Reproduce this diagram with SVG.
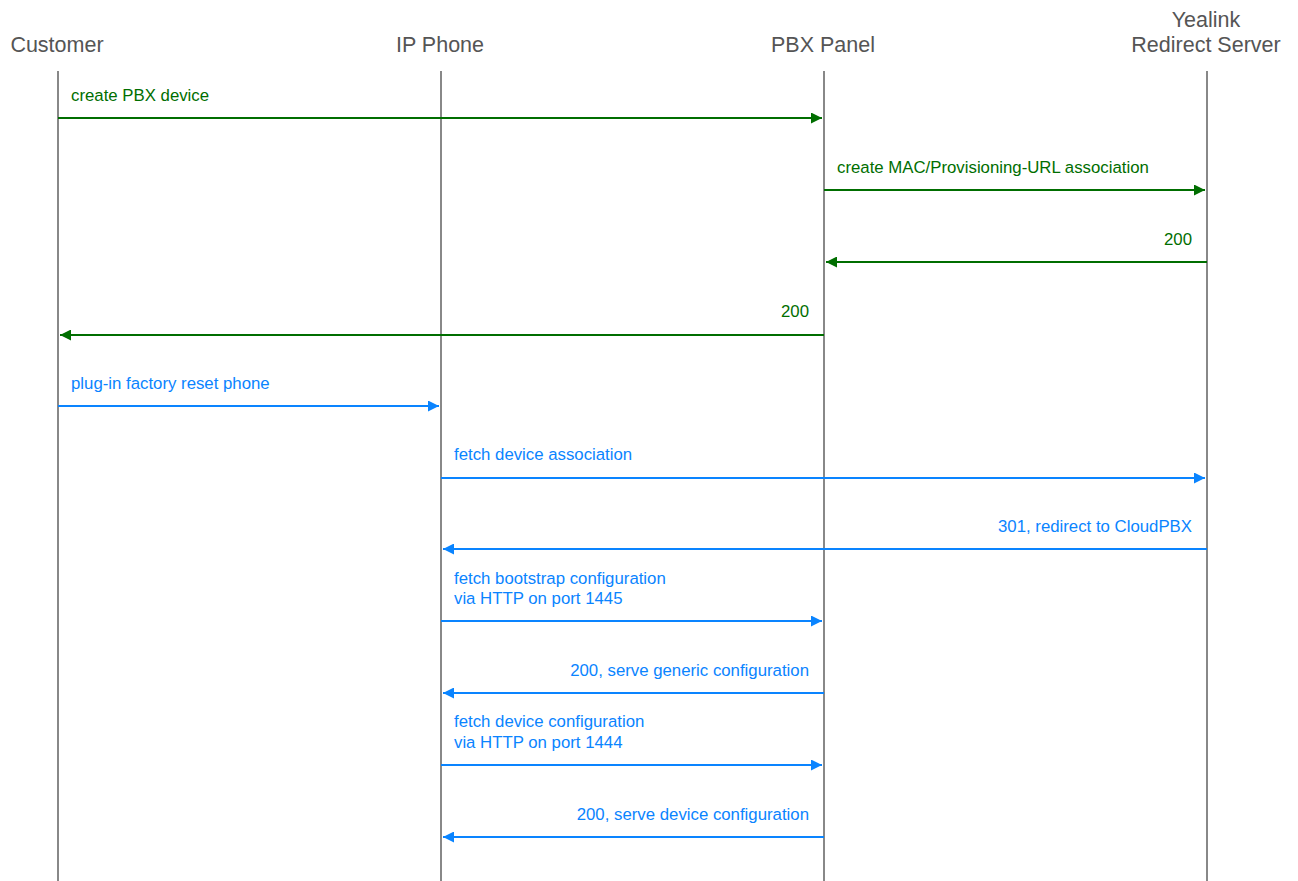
<svg xmlns="http://www.w3.org/2000/svg" width="1298" height="881" viewBox="0 0 1298 881">
<style>
.hdr{font-family:"Liberation Sans",Arial,sans-serif;font-size:21.5px;fill:#555;text-anchor:middle}
.life{stroke:#888;stroke-width:2}
.lbl{font-family:"Liberation Sans",Arial,sans-serif;font-size:16.8px}
.g{fill:#006e00}
.b{fill:#0a84ff}
.mg{stroke:#006e00;stroke-width:2;fill:none}
.mb{stroke:#0a84ff;stroke-width:2;fill:none}
.r{text-anchor:end}
</style>
<defs>
<marker id="ag" viewBox="0 0 10 10" refX="10" refY="5" markerWidth="11" markerHeight="11" markerUnits="userSpaceOnUse" orient="auto"><path d="M0,0 L10,5 L0,10 z" fill="#006e00"/></marker>
<marker id="ab" viewBox="0 0 10 10" refX="10" refY="5" markerWidth="11" markerHeight="11" markerUnits="userSpaceOnUse" orient="auto"><path d="M0,0 L10,5 L0,10 z" fill="#0a84ff"/></marker>
</defs>
<rect width="1298" height="881" fill="#fff"/>
<g id="customer"><text class="hdr" x="57" y="52">Customer</text><line class="life" x1="58" y1="71" x2="58" y2="881"/></g>
<g id="ipphone"><text class="hdr" x="440" y="52">IP Phone</text><line class="life" x1="441" y1="71" x2="441" y2="881"/></g>
<g id="pbxpanel"><text class="hdr" x="823" y="52">PBX Panel</text><line class="life" x1="824" y1="71" x2="824" y2="881"/></g>
<g id="redirect"><text class="hdr" x="1206" y="27">Yealink</text><text class="hdr" x="1206" y="52">Redirect Server</text><line class="life" x1="1207" y1="71" x2="1207" y2="881"/></g>
<g id="connectors">
<line class="mg" x1="58" y1="118" x2="822" y2="118" marker-end="url(#ag)"/>
<text class="lbl g" x="71" y="101">create PBX device</text>
<line class="mg" x1="824" y1="190" x2="1205" y2="190" marker-end="url(#ag)"/>
<text class="lbl g" x="837" y="173">create MAC/Provisioning-URL association</text>
<line class="mg" x1="1207" y1="262" x2="826" y2="262" marker-end="url(#ag)"/>
<text class="lbl g r" x="1192" y="245">200</text>
<line class="mg" x1="824" y1="335" x2="60" y2="335" marker-end="url(#ag)"/>
<text class="lbl g r" x="809" y="317">200</text>
<line class="mb" x1="58" y1="406" x2="439" y2="406" marker-end="url(#ab)"/>
<text class="lbl b" x="71" y="389">plug-in factory reset phone</text>
<line class="mb" x1="441" y1="478" x2="1205" y2="478" marker-end="url(#ab)"/>
<text class="lbl b" x="454" y="460">fetch device association</text>
<line class="mb" x1="1207" y1="549" x2="443" y2="549" marker-end="url(#ab)"/>
<text class="lbl b r" x="1192" y="532">301, redirect to CloudPBX</text>
<line class="mb" x1="441" y1="621" x2="822" y2="621" marker-end="url(#ab)"/>
<text class="lbl b" x="454" y="584">fetch bootstrap configuration</text>
<text class="lbl b" x="454" y="604">via HTTP on port 1445</text>
<line class="mb" x1="824" y1="693" x2="443" y2="693" marker-end="url(#ab)"/>
<text class="lbl b r" x="809" y="676">200, serve generic configuration</text>
<line class="mb" x1="441" y1="765" x2="822" y2="765" marker-end="url(#ab)"/>
<text class="lbl b" x="454" y="727">fetch device configuration</text>
<text class="lbl b" x="454" y="748">via HTTP on port 1444</text>
<line class="mb" x1="824" y1="837" x2="443" y2="837" marker-end="url(#ab)"/>
<text class="lbl b r" x="809" y="820">200, serve device configuration</text>
</g>
</svg>
